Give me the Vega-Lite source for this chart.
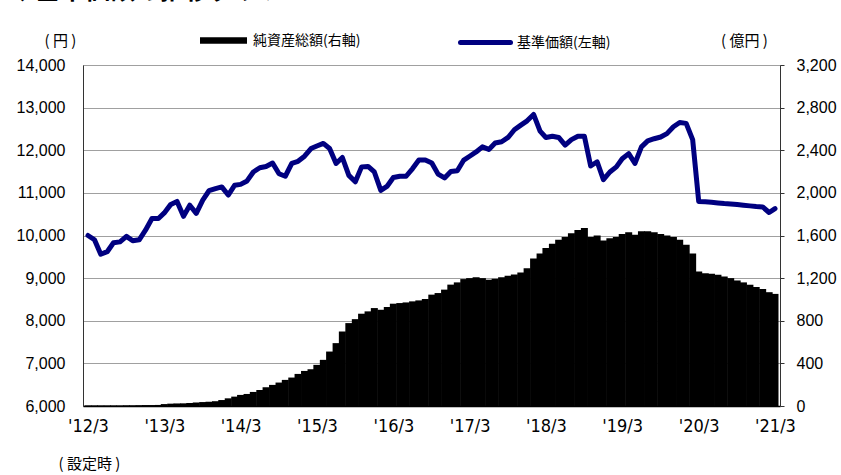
{
  "$schema": "https://vega.github.io/schema/vega-lite/v6.json",
  "autosize": "none",
  "width": 697,
  "height": 341,
  "padding": {"left": 83, "top": 65, "right": 61, "bottom": 69},
  "background": "white",
  "title": {
    "text": "◆基準価額の推移グラフ",
    "anchor": "start",
    "frame": "group",
    "font": "Noto Sans CJK JP",
    "fontSize": 25,
    "fontWeight": "bold",
    "color": "black",
    "dx": -73,
    "offset": 11
  },
  "config": {
    "view": {"stroke": "#909090", "strokeWidth": 1},
    "axis": {
      "labelColor": "black",
      "titleColor": "black",
      "labelFont": "Liberation Sans",
      "titleFont": "Noto Sans CJK JP",
      "titleFontWeight": "normal"
    },
    "legend": {
      "labelFont": "Noto Sans CJK JP",
      "labelFontSize": 14,
      "labelColor": "black",
      "padding": 0
    }
  },
  "data": {
    "values": [
      {"date": "2012-03-01", "nav": 10000, "aum": 6},
      {"date": "2012-04-01", "nav": 9900, "aum": 6},
      {"date": "2012-05-01", "nav": 9560, "aum": 6},
      {"date": "2012-06-01", "nav": 9620, "aum": 6},
      {"date": "2012-07-01", "nav": 9830, "aum": 6},
      {"date": "2012-08-01", "nav": 9850, "aum": 6},
      {"date": "2012-09-01", "nav": 9980, "aum": 7},
      {"date": "2012-10-01", "nav": 9875, "aum": 7},
      {"date": "2012-11-01", "nav": 9900, "aum": 8},
      {"date": "2012-12-01", "nav": 10125, "aum": 9},
      {"date": "2013-01-01", "nav": 10400, "aum": 9},
      {"date": "2013-02-01", "nav": 10400, "aum": 10},
      {"date": "2013-03-01", "nav": 10530, "aum": 18},
      {"date": "2013-04-01", "nav": 10730, "aum": 22},
      {"date": "2013-05-01", "nav": 10800, "aum": 24},
      {"date": "2013-06-01", "nav": 10450, "aum": 25},
      {"date": "2013-07-01", "nav": 10710, "aum": 28},
      {"date": "2013-08-01", "nav": 10520, "aum": 33},
      {"date": "2013-09-01", "nav": 10830, "aum": 37},
      {"date": "2013-10-01", "nav": 11050, "aum": 40},
      {"date": "2013-11-01", "nav": 11100, "aum": 45},
      {"date": "2013-12-01", "nav": 11140, "aum": 56},
      {"date": "2014-01-01", "nav": 10950, "aum": 72},
      {"date": "2014-02-01", "nav": 11180, "aum": 88},
      {"date": "2014-03-01", "nav": 11200, "aum": 104},
      {"date": "2014-04-01", "nav": 11280, "aum": 113},
      {"date": "2014-05-01", "nav": 11490, "aum": 132},
      {"date": "2014-06-01", "nav": 11590, "aum": 150},
      {"date": "2014-07-01", "nav": 11620, "aum": 176},
      {"date": "2014-08-01", "nav": 11700, "aum": 198},
      {"date": "2014-09-01", "nav": 11450, "aum": 220},
      {"date": "2014-10-01", "nav": 11390, "aum": 245},
      {"date": "2014-11-01", "nav": 11690, "aum": 267},
      {"date": "2014-12-01", "nav": 11740, "aum": 301},
      {"date": "2015-01-01", "nav": 11860, "aum": 329},
      {"date": "2015-02-01", "nav": 12040, "aum": 345},
      {"date": "2015-03-01", "nav": 12100, "aum": 386},
      {"date": "2015-04-01", "nav": 12160, "aum": 433},
      {"date": "2015-05-01", "nav": 12040, "aum": 511},
      {"date": "2015-06-01", "nav": 11690, "aum": 590},
      {"date": "2015-07-01", "nav": 11830, "aum": 700},
      {"date": "2015-08-01", "nav": 11410, "aum": 778},
      {"date": "2015-09-01", "nav": 11260, "aum": 815},
      {"date": "2015-10-01", "nav": 11610, "aum": 866},
      {"date": "2015-11-01", "nav": 11620, "aum": 888},
      {"date": "2015-12-01", "nav": 11490, "aum": 919},
      {"date": "2016-01-01", "nav": 11060, "aum": 903},
      {"date": "2016-02-01", "nav": 11160, "aum": 929},
      {"date": "2016-03-01", "nav": 11360, "aum": 960},
      {"date": "2016-04-01", "nav": 11390, "aum": 966},
      {"date": "2016-05-01", "nav": 11390, "aum": 972},
      {"date": "2016-06-01", "nav": 11570, "aum": 982},
      {"date": "2016-07-01", "nav": 11770, "aum": 991},
      {"date": "2016-08-01", "nav": 11770, "aum": 1004},
      {"date": "2016-09-01", "nav": 11700, "aum": 1045},
      {"date": "2016-10-01", "nav": 11440, "aum": 1060},
      {"date": "2016-11-01", "nav": 11350, "aum": 1092},
      {"date": "2016-12-01", "nav": 11500, "aum": 1139},
      {"date": "2017-01-01", "nav": 11520, "aum": 1160},
      {"date": "2017-02-01", "nav": 11770, "aum": 1191},
      {"date": "2017-03-01", "nav": 11860, "aum": 1200},
      {"date": "2017-04-01", "nav": 11960, "aum": 1209},
      {"date": "2017-05-01", "nav": 12080, "aum": 1200},
      {"date": "2017-06-01", "nav": 12020, "aum": 1185},
      {"date": "2017-07-01", "nav": 12170, "aum": 1194},
      {"date": "2017-08-01", "nav": 12200, "aum": 1209},
      {"date": "2017-09-01", "nav": 12300, "aum": 1222},
      {"date": "2017-10-01", "nav": 12480, "aum": 1234},
      {"date": "2017-11-01", "nav": 12590, "aum": 1252},
      {"date": "2017-12-01", "nav": 12690, "aum": 1292},
      {"date": "2018-01-01", "nav": 12840, "aum": 1385},
      {"date": "2018-02-01", "nav": 12450, "aum": 1431},
      {"date": "2018-03-01", "nav": 12300, "aum": 1483},
      {"date": "2018-04-01", "nav": 12330, "aum": 1523},
      {"date": "2018-05-01", "nav": 12300, "aum": 1560},
      {"date": "2018-06-01", "nav": 12120, "aum": 1585},
      {"date": "2018-07-01", "nav": 12250, "aum": 1622},
      {"date": "2018-08-01", "nav": 12330, "aum": 1652},
      {"date": "2018-09-01", "nav": 12330, "aum": 1671},
      {"date": "2018-10-01", "nav": 11630, "aum": 1585},
      {"date": "2018-11-01", "nav": 11730, "aum": 1600},
      {"date": "2018-12-01", "nav": 11310, "aum": 1554},
      {"date": "2019-01-01", "nav": 11490, "aum": 1575},
      {"date": "2019-02-01", "nav": 11610, "aum": 1585},
      {"date": "2019-03-01", "nav": 11800, "aum": 1615},
      {"date": "2019-04-01", "nav": 11920, "aum": 1631},
      {"date": "2019-05-01", "nav": 11690, "aum": 1606},
      {"date": "2019-06-01", "nav": 12080, "aum": 1640},
      {"date": "2019-07-01", "nav": 12220, "aum": 1640},
      {"date": "2019-08-01", "nav": 12270, "aum": 1631},
      {"date": "2019-09-01", "nav": 12310, "aum": 1615},
      {"date": "2019-10-01", "nav": 12390, "aum": 1600},
      {"date": "2019-11-01", "nav": 12550, "aum": 1585},
      {"date": "2019-12-01", "nav": 12650, "aum": 1560},
      {"date": "2020-01-01", "nav": 12630, "aum": 1514},
      {"date": "2020-02-01", "nav": 12250, "aum": 1431},
      {"date": "2020-03-01", "nav": 10800, "aum": 1262},
      {"date": "2020-04-01", "nav": 10790, "aum": 1246},
      {"date": "2020-05-01", "nav": 10780, "aum": 1240},
      {"date": "2020-06-01", "nav": 10765, "aum": 1231},
      {"date": "2020-07-01", "nav": 10750, "aum": 1215},
      {"date": "2020-08-01", "nav": 10740, "aum": 1200},
      {"date": "2020-09-01", "nav": 10725, "aum": 1178},
      {"date": "2020-10-01", "nav": 10710, "aum": 1160},
      {"date": "2020-11-01", "nav": 10695, "aum": 1138},
      {"date": "2020-12-01", "nav": 10680, "aum": 1117},
      {"date": "2021-01-01", "nav": 10670, "aum": 1098},
      {"date": "2021-02-01", "nav": 10540, "aum": 1068},
      {"date": "2021-03-01", "nav": 10630, "aum": 1052}
    ]
  },
  "encoding": {
    "x": {
      "field": "date",
      "type": "temporal",
      "scale": {
        "type": "utc",
        "domain": [
          {"year": 2012, "month": 3, "date": 1, "utc": true},
          {"year": 2021, "month": 3, "date": 1, "utc": true}
        ]
      },
      "axis": {
        "values": [
          {"year": 2012, "month": 3, "date": 1, "utc": true},
          {"year": 2013, "month": 3, "date": 1, "utc": true},
          {"year": 2014, "month": 3, "date": 1, "utc": true},
          {"year": 2015, "month": 3, "date": 1, "utc": true},
          {"year": 2016, "month": 3, "date": 1, "utc": true},
          {"year": 2017, "month": 3, "date": 1, "utc": true},
          {"year": 2018, "month": 3, "date": 1, "utc": true},
          {"year": 2019, "month": 3, "date": 1, "utc": true},
          {"year": 2020, "month": 3, "date": 1, "utc": true},
          {"year": 2021, "month": 3, "date": 1, "utc": true}
        ],
        "format": "'%y/%-m",
        "labelFont": "DejaVu Sans Condensed",
        "labelFontSize": 18,
        "labelPadding": 11,
        "labelFlush": false,
        "labelOverlap": false,
        "ticks": false,
        "grid": false,
        "domainColor": "black",
        "domainWidth": 1.5,
        "title": "(\u00a0設定時\u00a0)",
        "titleFont": "Noto Sans CJK JP",
        "titleFontSize": 15,
        "titleAlign": "center",
        "titleBaseline": "middle",
        "titleX": 6,
        "titleY": 57
      }
    }
  },
  "layer": [
    {
      "mark": {"type": "bar", "width": 7, "clip": false},
      "encoding": {
        "y": {
          "field": "aum",
          "type": "quantitative",
          "scale": {"domain": [0, 3200], "nice": false},
          "axis": {
            "orient": "right",
            "values": [0, 400, 800, 1200, 1600, 2000, 2400, 2800, 3200],
            "format": ",d",
            "labelFontSize": 16,
            "labelPadding": 12,
            "tickSize": 4,
            "tickColor": "#333333",
            "domainColor": "#333333",
            "grid": false,
            "title": "(\u00a0億円\u00a0)",
            "titleFont": "Noto Sans CJK JP",
            "titleFontSize": 15,
            "titleAngle": 0,
            "titleAlign": "center",
            "titleBaseline": "middle",
            "titleX": -36,
            "titleY": -25
          }
        },
        "fill": {
          "datum": "純資産総額(右軸)",
          "scale": {"range": ["#000000"]},
          "legend": {
            "title": null,
            "orient": "none",
            "legendX": 117,
            "legendY": -48,
            "symbolType": "M-1,-0.14H1V0.14H-1Z",
            "symbolSize": 2209,
            "symbolStrokeWidth": 0,
            "labelOffset": 6
          }
        }
      }
    },
    {
      "mark": {"type": "line", "strokeWidth": 5, "strokeJoin": "round", "strokeCap": "round"},
      "encoding": {
        "y": {
          "field": "nav",
          "type": "quantitative",
          "scale": {"domain": [6000, 14000], "nice": false},
          "axis": {
            "orient": "left",
            "values": [6000, 7000, 8000, 9000, 10000, 11000, 12000, 13000, 14000],
            "format": ",d",
            "labelFontSize": 16,
            "labelPadding": 18,
            "ticks": false,
            "domainColor": "#333333",
            "grid": true,
            "gridColor": "#a0a0a0",
            "gridWidth": 1,
            "title": "(\u00a0円\u00a0)",
            "titleFont": "Noto Sans CJK JP",
            "titleFontSize": 15,
            "titleAngle": 0,
            "titleAlign": "center",
            "titleBaseline": "middle",
            "titleX": -23,
            "titleY": -25
          }
        },
        "stroke": {
          "datum": "基準価額(左軸)",
          "scale": {"range": ["#000080"]},
          "legend": {
            "title": null,
            "orient": "none",
            "legendX": 375,
            "legendY": -50,
            "symbolType": "stroke",
            "symbolSize": 2500,
            "symbolStrokeWidth": 5,
            "labelOffset": 4,
            "encode": {"symbols": {"update": {"strokeCap": {"value": "round"}}}}
          }
        }
      }
    }
  ],
  "resolve": {"scale": {"y": "independent"}}
}
